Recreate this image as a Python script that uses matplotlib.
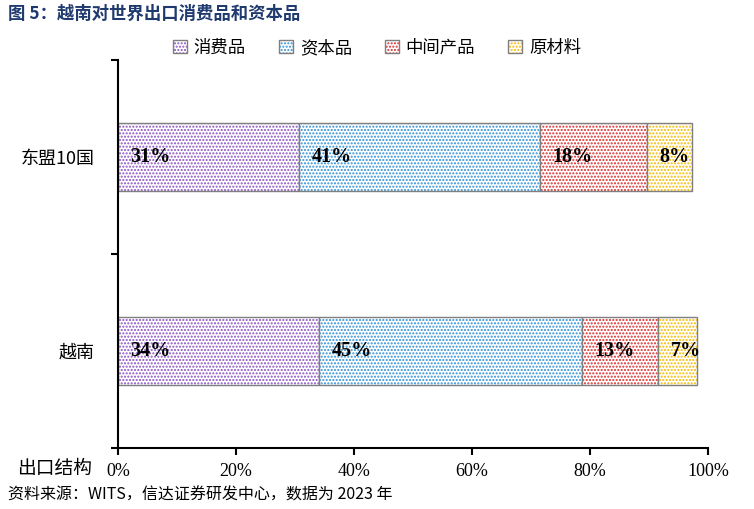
import matplotlib.pyplot as plt
import numpy as np

plt.rcParams['font.family'] = ['Liberation Serif', 'Noto Sans CJK SC', 'DejaVu Sans']
plt.rcParams['hatch.linewidth'] = 1.0

regions = ['越南', '东盟10国']
parts = ['消费品', '资本品', '中间产品', '原材料']
consumer = [34.1, 30.7]
capital = [44.6, 40.8]
intermediate = [12.9, 18.2]
raw = [6.6, 7.6]
labels = [['34%', '31%'], ['45%', '41%'], ['13%', '18%'], ['7%', '8%']]
colors = ['#8a4fc4', '#2f8fd8', '#d92b2b', '#f5b800']

series = [consumer, capital, intermediate, raw]

fig = plt.figure(figsize=(7.54, 5.09), dpi=100)
ax = fig.add_axes([0.1565, 0.1198, 0.7825, 0.7622])

y = np.arange(len(regions))
left = np.zeros(len(regions))
handles = []
for vals, name, col, labs in zip(series, parts, colors, labels):
    vals = np.array(vals)
    b = ax.barh(y, vals, left=left, height=0.35, color='white', edgecolor=col,
                hatch='.....', linewidth=0, label=name)
    e = ax.barh(y, vals, left=left, height=0.35, color='none', edgecolor='#7f7f7f', linewidth=1.0)
    handles.append((b.patches[0], e.patches[0]))
    for yi, l0, lab in zip(y, left, labs):
        ax.annotate(lab, (l0, yi), xytext=(9, 0), textcoords='offset points',
                    ha='left', va='center', fontsize=14.5, fontweight='bold',
                    family=['Liberation Serif'])
    left = left + vals

ax.set_xlim(0, 100)
ax.set_ylim(-0.5, 1.5)
ax.set_xticks(np.arange(0, 101, 20))
ax.set_xticklabels([f'{v}%' for v in range(0, 101, 20)], fontsize=13,
                   family=['Liberation Serif'])
ax.set_yticks(y)
ax.set_yticklabels(regions, fontsize=13, family=['Noto Sans CJK SC'])
ax.set_yticks([-0.5, 0.5, 1.5], minor=True)
ax.tick_params(axis='y', which='major', length=0, pad=17)
ax.tick_params(axis='y', which='minor', length=5, width=1.5, direction='out')
ax.tick_params(axis='x', length=5, width=1.5, direction='out', pad=6)
for s in ['top', 'right']:
    ax.spines[s].set_visible(False)
for s in ['left', 'bottom']:
    ax.spines[s].set_linewidth(1.5)
    ax.spines[s].set_color('black')

fig.legend(handles=handles, labels=parts, loc='center', bbox_to_anchor=(0.5, 0.906),
           ncol=4, frameon=False, handlelength=0.8, handleheight=0.8,
           columnspacing=1.9, handletextpad=0.4, prop={'family': ['Noto Sans CJK SC'], 'size': 12.5})

fig.text(0.011, 0.972, '图 5：越南对世界出口消费品和资本品', fontsize=12.5, fontweight='bold',
         color='#1f3a6e', family=['Noto Sans CJK SC'], va='center', ha='left')
fig.text(0.022, 0.079, '出口结构', fontsize=13.5, family=['Noto Sans CJK SC'], va='center', ha='left')
fig.text(0.010, 0.027, '资料来源：WITS，信达证券研发中心，数据为 2023 年', fontsize=11.5,
         style='italic', family=['Noto Sans CJK SC'], va='center', ha='left')

fig.savefig('out.png', dpi=100)
